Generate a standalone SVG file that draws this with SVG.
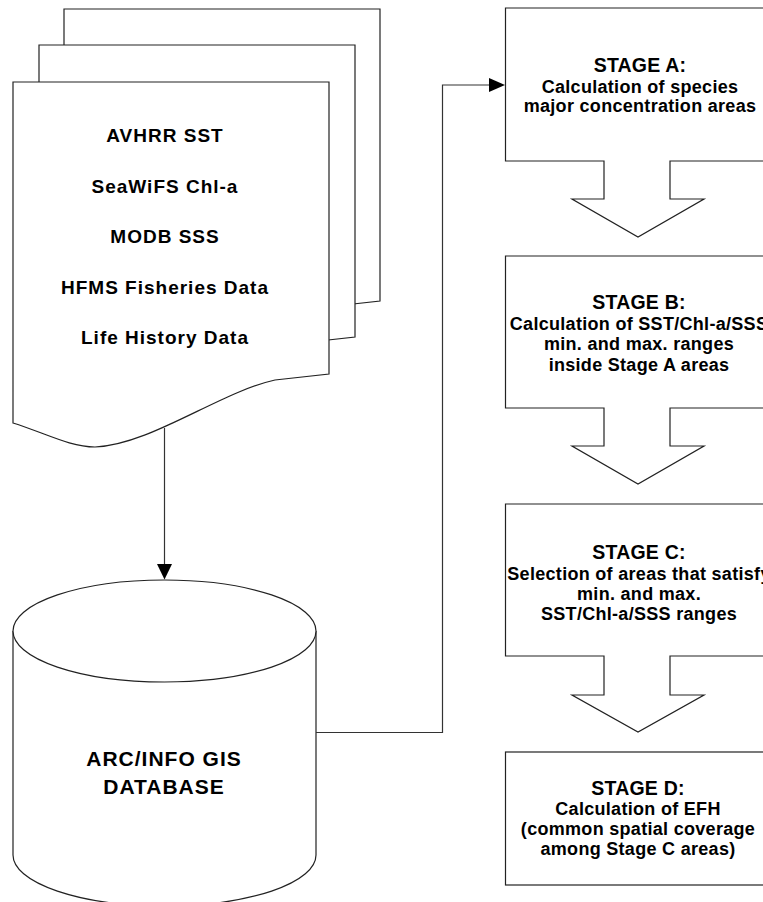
<svg xmlns="http://www.w3.org/2000/svg" width="763" height="902" viewBox="0 0 763 902">
<style>
.s{fill:#fff;stroke:#222;stroke-width:1.2;stroke-linejoin:miter}
.c{fill:none;stroke:#333;stroke-width:1.2}
.h{fill:#000;stroke:none}
text{font-family:"Liberation Sans",Arial,sans-serif;font-weight:bold;fill:#000;text-anchor:middle}
.p{font-size:19px;letter-spacing:1px}
.d{font-size:21px;letter-spacing:1px}
.t{font-size:19.5px;letter-spacing:0.2px}
.b{font-size:18px;letter-spacing:0.3px}
</style>
<defs>
<path id="doc" d="M13,82 H329 V374 L275,380 C220,392 150,445 95,447 C70,447 45,433 13,423 Z"/>
</defs>
<g id="documents">
<use href="#doc" class="s" transform="translate(51,-73)"/>
<use href="#doc" class="s" transform="translate(26,-37)"/>
<use href="#doc" class="s"/>
<text class="p" x="165" y="142">AVHRR SST</text>
<text class="p" x="165" y="193">SeaWiFS Chl-a</text>
<text class="p" x="165" y="243">MODB SSS</text>
<text class="p" x="165" y="294">HFMS Fisheries Data</text>
<text class="p" x="165" y="344">Life History Data</text>
</g>
<g id="database">
<path class="s" d="M13,631 V855 A151.5,51 0 0 0 316,855 V631"/>
<ellipse class="s" cx="164.5" cy="631" rx="151.5" ry="51"/>
<text class="d" x="164" y="766">ARC/INFO GIS</text>
<text class="d" x="164" y="794">DATABASE</text>
</g>
<g id="stageA">
<path class="s" d="M505.5,8 H771 V161 H670 V199 H704 L638,237 L572,199 H604 V161 H505.5 Z"/>
<text class="t" x="640" y="72">STAGE A:</text>
<text class="b" x="640" y="93">Calculation of species</text>
<text class="b" x="640" y="112">major concentration areas</text>
</g>
<g id="stageB">
<path class="s" d="M505.5,256 H771 V408 H670 V446 H704 L638,484 L572,446 H604 V408 H505.5 Z"/>
<text class="t" x="639" y="309">STAGE B:</text>
<text class="b" x="639" y="330">Calculation of SST/Chl-a/SSS</text>
<text class="b" x="639" y="350">min. and max. ranges</text>
<text class="b" x="639" y="371">inside Stage A areas</text>
</g>
<g id="stageC">
<path class="s" d="M505.5,504 H771 V656 H670 V695 H704 L638,732 L572,695 H604 V656 H505.5 Z"/>
<text class="t" x="639" y="559">STAGE C:</text>
<text class="b" x="639" y="580">Selection of areas that satisfy</text>
<text class="b" x="639" y="600">min. and max.</text>
<text class="b" x="639" y="620">SST/Chl-a/SSS ranges</text>
</g>
<g id="stageD">
<rect class="s" x="505.5" y="752" width="265.5" height="133"/>
<text class="t" x="638" y="795">STAGE D:</text>
<text class="b" x="638" y="815">Calculation of EFH</text>
<text class="b" x="638" y="835">(common spatial coverage</text>
<text class="b" x="638" y="855">among Stage C areas)</text>
</g>
<g id="connectors">
<path class="c" d="M164.5,428 V566"/>
<polygon class="h" points="157,564 172,564 164.5,579.5"/>
<path class="c" d="M316,732.5 H442.5 V85 H491"/>
<polygon class="h" points="489,78 489,92 505,85"/>
</g>
</svg>
